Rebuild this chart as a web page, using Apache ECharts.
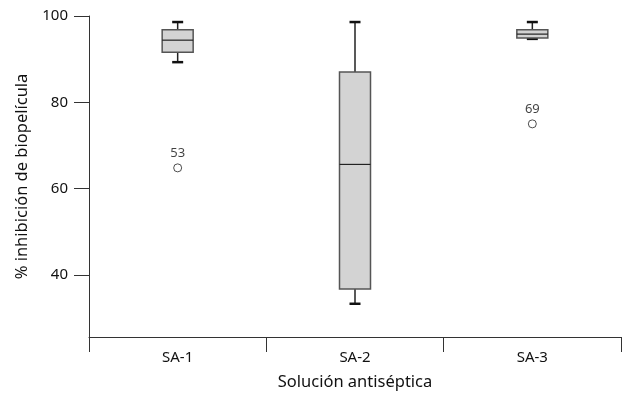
<!DOCTYPE html>
<html><head><meta charset="utf-8">
<script src="https://cdn.jsdelivr.net/npm/echarts@6/dist/echarts.min.js"></script>
<style>html,body{margin:0;padding:0;background:#fff}#c{width:626px;height:398px}</style>
</head><body><div id="c"></div>
<script>
var categories = ['SA-1', 'SA-2', 'SA-3'];
// [lowerWhisker, q1, median, q3, upperWhisker]
var boxStats = [
  [89.3, 91.6, 94.4, 96.8, 98.6],
  [33.3, 36.7, 65.6, 87.0, 98.6],
  [94.7, 94.9, 95.8, 96.8, 98.6]
];
// outliers: category index, value, case label
var outlierCat = [0, 2];
var outlierVal = [64.8, 75.0];
var outlierLabel = ['53', '69'];
var yTicks = [40, 60, 80, 100];

var boxData = boxStats.map(function (s, i) { return [i].concat(s); });
var outData = outlierCat.map(function (c, i) { return { value: [c, outlierVal[i]], label: { formatter: outlierLabel[i] } }; });

var chart = echarts.init(document.getElementById('c'), null, { renderer: 'canvas' });
var font = 'Noto Sans';
var txt = '#111';
chart.setOption({
  animation: false,
  grid: { left: 89, right: 5, top: 16, bottom: 61 },
  xAxis: {
    type: 'category', data: categories, boundaryGap: true,
    name: 'Solución antiséptica', nameLocation: 'middle', nameGap: 37,
    nameTextStyle: { fontFamily: font, fontSize: 16.5, color: txt },
    axisLine: { lineStyle: { color: '#333', width: 1 } },
    axisTick: { show: true, length: 15, alignWithLabel: false, lineStyle: { color: '#333' } },
    axisLabel: { fontFamily: font, fontSize: 15, color: txt, margin: 13 }
  },
  yAxis: {
    type: 'value', min: 25.6, max: 100,
    name: '% inhibición de biopelícula', nameLocation: 'middle', nameGap: 58,
    nameTextStyle: { fontFamily: font, fontSize: 16.5, color: txt },
    splitLine: { show: false },
    axisLine: { show: true, lineStyle: { color: '#333', width: 1 } },
    axisTick: { show: true, length: 15, customValues: yTicks, lineStyle: { color: '#333' } },
    axisLabel: { fontFamily: font, fontSize: 15, color: txt, margin: 21, customValues: yTicks }
  },
  series: [
    {
      type: 'custom',
      data: boxData,
      encode: { x: 0, y: [1, 2, 3, 4, 5] },
      renderItem: function (params, api) {
        var x = api.value(0);
        var lo = api.coord([x, api.value(1)]);
        var q1 = api.coord([x, api.value(2)]);
        var med = api.coord([x, api.value(3)]);
        var q3 = api.coord([x, api.value(4)]);
        var hi = api.coord([x, api.value(5)]);
        var cx = lo[0];
        var bw = 31, cw = 9;
        var ls = { stroke: '#222', lineWidth: 1.5 };
        return {
          type: 'group',
          children: [
            { type: 'line', shape: { x1: cx, y1: hi[1], x2: cx, y2: q3[1] }, style: ls },
            { type: 'line', shape: { x1: cx, y1: q1[1], x2: cx, y2: lo[1] }, style: ls },
            { type: 'line', shape: { x1: cx - cw / 2 - 1, y1: hi[1], x2: cx + cw / 2 + 1, y2: hi[1] }, style: { stroke: '#111', lineWidth: 2.5 } },
            { type: 'line', shape: { x1: cx - cw / 2 - 1, y1: lo[1], x2: cx + cw / 2 + 1, y2: lo[1] }, style: { stroke: '#111', lineWidth: 2.5 } },
            { type: 'rect', shape: { x: cx - bw / 2, y: q3[1], width: bw, height: q1[1] - q3[1] }, style: { fill: '#d3d3d3', stroke: '#555', lineWidth: 1.5 } },
            { type: 'line', shape: { x1: cx - bw / 2, y1: med[1], x2: cx + bw / 2, y2: med[1] }, style: { stroke: '#222', lineWidth: 1.2 } }
          ]
        };
      }
    },
    {
      type: 'scatter',
      data: outData,
      symbol: 'circle', symbolSize: 8,
      itemStyle: { color: '#fff', borderColor: '#222', borderWidth: 1 },
      label: { show: true, position: 'top', distance: 4, fontFamily: font, fontSize: 13, color: txt }
    }
  ]
});
</script></body></html>
